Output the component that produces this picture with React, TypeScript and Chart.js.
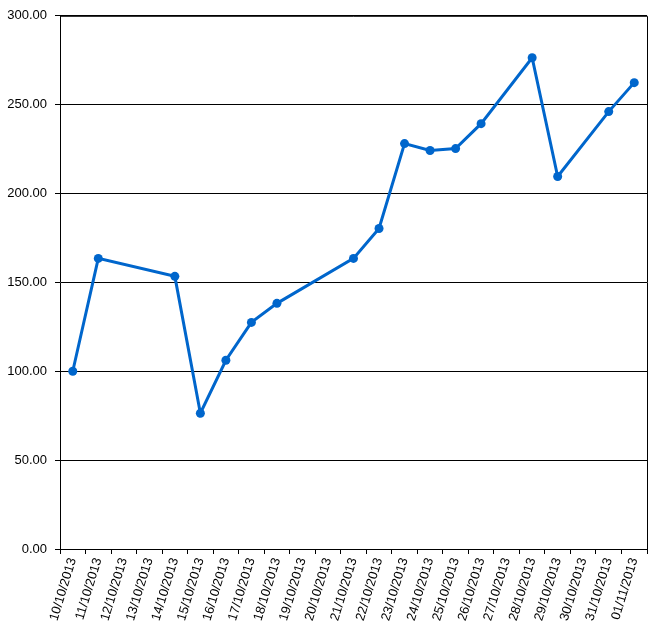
import React, { useEffect, useRef } from "react";
import { Chart, registerables } from "chart.js";

Chart.register(...registerables);

const categories: string[] = [
  "10/10/2013", "11/10/2013", "12/10/2013", "13/10/2013", "14/10/2013", "15/10/2013",
  "16/10/2013", "17/10/2013", "18/10/2013", "19/10/2013", "20/10/2013", "21/10/2013",
  "22/10/2013", "23/10/2013", "24/10/2013", "25/10/2013", "26/10/2013", "27/10/2013",
  "28/10/2013", "29/10/2013", "30/10/2013", "31/10/2013", "01/11/2013",
];

const seriesValues: (number | null)[] = [
  100.0, 163.5, null, null, 153.4, 76.4,
  106.2, 127.5, 138.2, null, null, 163.5,
  180.3, 228.1, 224.2, 225.3, 239.3, null,
  276.4, 209.6, null, 246.1, 262.4,
];

const yTicks = { min: 0, max: 300, step: 50 };

const framePlugin = {
  id: "frame",
  afterDatasetsDraw(chart: any) {
    const { ctx, chartArea } = chart;
    ctx.save();
    ctx.strokeStyle = "#000";
    ctx.lineWidth = 1;
    ctx.beginPath();
    ctx.moveTo(chartArea.left, chartArea.top + 0.5);
    ctx.lineTo(chartArea.right + 0.5, chartArea.top + 0.5);
    ctx.lineTo(chartArea.right + 0.5, chartArea.bottom);
    ctx.stroke();
    ctx.restore();
  },
};

export default function App() {
  const ref = useRef<HTMLCanvasElement | null>(null);

  useEffect(() => {
    if (!ref.current) return;
    const chart = new Chart(ref.current, {
      type: "line",
      data: {
        labels: categories,
        datasets: [
          {
            data: seriesValues,
            borderColor: "#0066CC",
            backgroundColor: "#0066CC",
            borderWidth: 3,
            pointRadius: 4.5,
            pointHoverRadius: 4.5,
            pointBackgroundColor: "#0066CC",
            pointBorderWidth: 0,
            spanGaps: true,
            tension: 0,
          },
        ],
      },
      options: {
        animation: false,
        responsive: false,
        maintainAspectRatio: false,
        layout: { padding: { top: 15, right: 11, left: 0, bottom: 0 } },
        plugins: {
          legend: { display: false },
          tooltip: { enabled: false },
        },
        scales: {
          x: {
            type: "category",
            offset: true,
            grid: {
              display: true,
              drawOnChartArea: false,
              drawTicks: true,
              tickLength: 5,
              offset: true,
              color: "#000",
              lineWidth: 1,
            },
            border: { display: true, color: "#000", width: 1 },
            ticks: {
              autoSkip: false,
              minRotation: 73,
              maxRotation: 73,
              padding: 2,
              color: "#000",
              font: { family: "Liberation Sans, Arial, sans-serif", size: 13 },
            },
            afterFit(scale: any) {
              scale.height = 85;
            },
          },
          y: {
            min: yTicks.min,
            max: yTicks.max,
            ticks: {
              stepSize: yTicks.step,
              padding: 8,
              color: "#000",
              font: { family: "Liberation Sans, Arial, sans-serif", size: 13 },
              callback: (v: any) => Number(v).toFixed(2),
            },
            grid: {
              color: "#000",
              lineWidth: 1,
              tickLength: 5,
              drawTicks: true,
            },
            border: { display: true, color: "#000", width: 1 },
            afterFit(scale: any) {
              scale.width = 60;
            },
          },
        },
      },
      plugins: [framePlugin],
    });
    return () => chart.destroy();
  }, []);

  return (
    <div style={{ position: "fixed", left: 0, top: 0, width: 658, height: 634, background: "#fff" }}>
      <canvas ref={ref} width={658} height={634} style={{ width: 658, height: 634, display: "block" }} />
    </div>
  );
}
